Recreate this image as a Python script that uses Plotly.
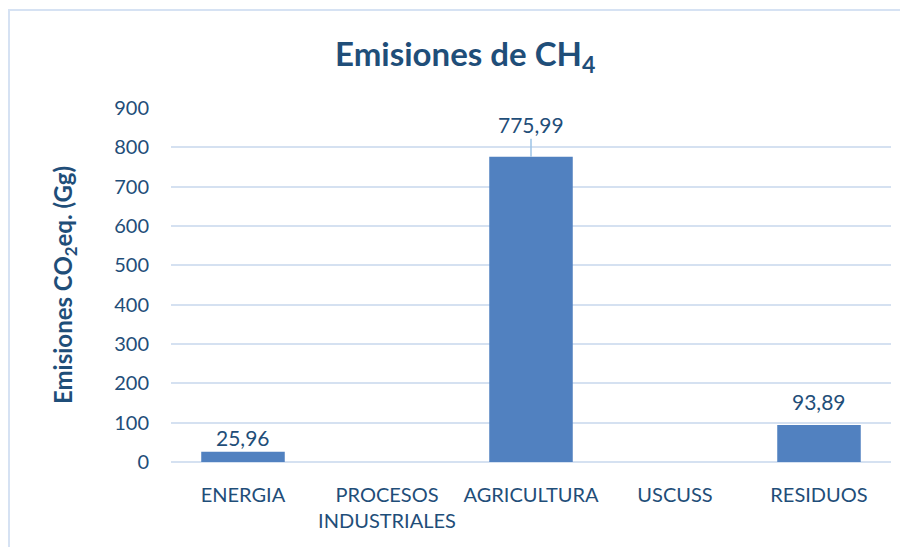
import plotly.graph_objects as go

categories = ["ENERGIA", "PROCESOS<br>INDUSTRIALES", "AGRICULTURA", "USCUSS", "RESIDUOS"]
values = [25.96, None, 775.99, None, 93.89]
labels = ["25,96", None, "775,99", None, "93,89"]
y_ticks = [0, 100, 200, 300, 400, 500, 600, 700, 800, 900]

TXT = "#1f4e79"
FONT = "Lato, 'Open Sans', sans-serif"

fig = go.Figure()
fig.add_trace(go.Bar(
    x=categories, y=values,
    marker=dict(color="#5181c0", line=dict(width=0)),
    width=0.58,
    hoverinfo="x+y",
))

# page has an 8px body margin, so the figure is 900x539
W, H = 900, 539
L, R, T, B = 163, 17, 100, 85
pw, ph = W - L - R, H - T - B

ann = []
for cat, v, lab in zip(categories, values, labels):
    if v is None:
        continue
    if v > 500:
        ann.append(dict(x=cat, y=v, text=lab, showarrow=True, arrowhead=0,
                        arrowcolor="#9dc3e6", arrowwidth=1.5, ax=0, ay=-32,
                        standoff=0, font=dict(size=21, color=TXT, family=FONT)))
    else:
        shift = 0 if v < 50 else 9
        ann.append(dict(x=cat, y=v, text=lab, showarrow=False, yanchor="bottom",
                        yshift=shift, font=dict(size=21, color=TXT, family=FONT)))

fig.update_layout(
    width=W, height=H,
    margin=dict(l=L, r=R, t=T, b=B),
    paper_bgcolor="white", plot_bgcolor="white",
    showlegend=False,
    font=dict(family=FONT, color=TXT, size=20),
    title=dict(text="<b>Emisiones de CH<sub>4</sub></b>", x=0.508, xanchor="center",
               y=0.913, yanchor="middle", font=dict(size=33, color=TXT, family=FONT)),
    xaxis=dict(showgrid=False, showline=False, ticks="", ticklabelstandoff=19,
               tickfont=dict(size=20, color=TXT)),
    yaxis=dict(range=[0, 900], tickvals=y_ticks, showgrid=True, gridcolor="#d5e1f1",
               gridwidth=1.5, zeroline=True, zerolinecolor="#d5e1f1", zerolinewidth=1.5,
               showline=False, ticks="", ticklabelstandoff=21,
               tickfont=dict(size=20, color=TXT),
               title=dict(text="<b>Emisiones CO<sub>2</sub>eq. (Gg)</b>", standoff=34,
                          font=dict(size=24, color=TXT))),
    annotations=ann,
    shapes=[
        dict(type="line", xref="paper", yref="paper",
             x0=(1 - L) / pw, x1=(1 - L) / pw,
             y0=(H - B - H) / ph, y1=(H - B - 2) / ph,
             line=dict(color="#d6e2f3", width=2), layer="below"),
        dict(type="line", xref="paper", yref="paper",
             x0=(0 - L) / pw, x1=(W - L) / pw,
             y0=(H - B - 2) / ph, y1=(H - B - 2) / ph,
             line=dict(color="#d6e2f3", width=2), layer="below"),
    ],
)

fig.write_html("out.html")
